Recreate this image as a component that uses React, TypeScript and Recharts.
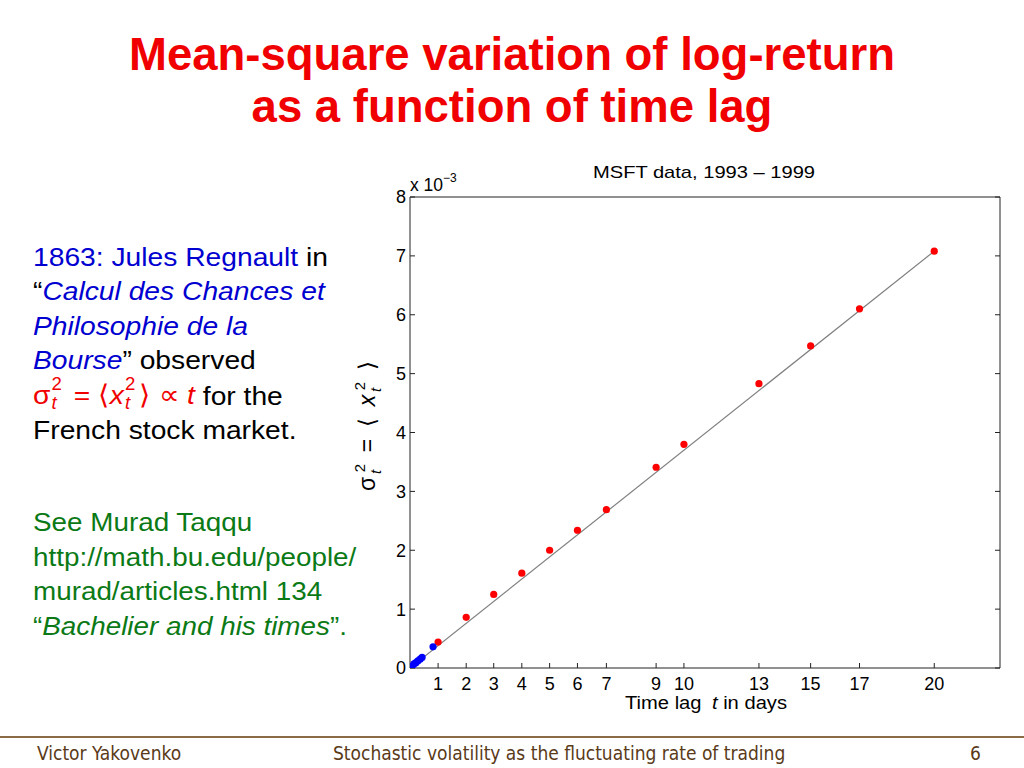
import React from 'react';
import { ScatterChart, Scatter, XAxis, YAxis } from 'recharts';

// lag positions along the plot's linear axis; the day labels below sit at these
const redLag = [1, 2, 2.98, 3.98, 4.97, 5.96, 6.99, 8.76, 9.75, 12.42, 14.26, 16.0, 18.66];
const redMsd = [0.44, 0.86, 1.25, 1.61, 2.0, 2.34, 2.69, 3.41, 3.8, 4.83, 5.47, 6.1, 7.08];
const dayLabels = [1, 2, 3, 4, 5, 6, 7, 9, 10, 13, 15, 17, 20];

// intraday lags (blue)
const blueLag = [0.02, 0.07, 0.14, 0.21, 0.28, 0.36, 0.43, 0.82];
const blueMsd = [0.0, 0.03, 0.07, 0.09, 0.12, 0.15, 0.18, 0.36];

// fitted straight line
const fitLag = [0, 18.66];
const fitMsd = [0, 7.08];

const yTicks = [0, 1, 2, 3, 4, 5, 6, 7, 8];

const toPoints = (xs: number[], ys: number[]) => xs.map((x, i) => ({ lag: x, msd: ys[i] }));

const redData = toPoints(redLag, redMsd);
const blueData = toPoints(blueLag, blueMsd);
const fitData = toPoints(fitLag, fitMsd);

const BLUE = '#0000d0';
const GREEN = '#0b7a16';
const RED = '#f00000';
const BODY_FONT = 26.5;

const dot = (color: string) => (props: any) => (
  <circle cx={props.cx} cy={props.cy} r={3.6} fill={color} />
);

const tickFont = { fontFamily: 'Liberation Sans, Arial, sans-serif', fontSize: 18, fill: '#000' };
const axisStroke = { stroke: '#222', strokeWidth: 1 };

const dayLabel = (v: number) => {
  const i = redLag.indexOf(v);
  return i >= 0 ? String(dayLabels[i]) : '';
};

// stacked subscript / superscript that does not grow the line box
const SubSup = ({ sub, sup }: { sub: string; sup: string }) => {
  const s = BODY_FONT * 0.66;
  const common: React.CSSProperties = { position: 'absolute', left: 1, fontSize: s, lineHeight: 1 };
  return (
    <span
      style={{
        display: 'inline-block',
        position: 'relative',
        width: BODY_FONT * 0.55,
        height: BODY_FONT,
      }}
    >
      <span style={{ ...common, top: -2 }}>{sup}</span>
      <span style={{ ...common, top: 17, fontStyle: 'italic' }}>{sub}</span>
    </span>
  );
};

export default function App() {
  return (
    <div
      style={{
        position: 'fixed',
        left: 0,
        top: 0,
        width: 1024,
        height: 768,
        background: '#fff',
        overflow: 'hidden',
        fontFamily: 'Liberation Sans, Arial, sans-serif',
      }}
    >
      {/* slide title */}
      <div
        style={{
          position: 'absolute',
          top: 29,
          left: 0,
          width: 1024,
          textAlign: 'center',
          color: RED,
          fontWeight: 'bold',
          fontSize: 45.5,
          lineHeight: '52px',
        }}
      >
        Mean-square variation of log-return
        <br />
        as a function of time lag
      </div>

      {/* left text */}
      <div
        style={{
          position: 'absolute',
          left: 33,
          top: 240,
          fontSize: BODY_FONT,
          lineHeight: '34.4px',
          color: '#000',
          transform: 'scaleX(1.065)',
          transformOrigin: '0 0',
          whiteSpace: 'nowrap',
        }}
      >
        <div>
          <span style={{ color: BLUE }}>1863: Jules Regnault</span> in
        </div>
        <div>
          “<i style={{ color: BLUE }}>Calcul des Chances et</i>
        </div>
        <div>
          <i style={{ color: BLUE }}>Philosophie de la</i>
        </div>
        <div>
          <i style={{ color: BLUE }}>Bourse</i>” observed
        </div>
        <div>
          <span style={{ color: RED }}>
            σ<SubSup sub="t" sup="2" /> = ⟨<i>x</i>
            <SubSup sub="t" sup="2" />⟩ ∝ <i>t</i>
          </span>{' '}
          for the
        </div>
        <div>French stock market.</div>
      </div>

      <div
        style={{
          position: 'absolute',
          left: 33,
          top: 505,
          fontSize: BODY_FONT,
          lineHeight: '34.7px',
          color: GREEN,
          transform: 'scaleX(1.05)',
          transformOrigin: '0 0',
          whiteSpace: 'nowrap',
        }}
      >
        <div>See Murad Taqqu</div>
        <div>http://math.bu.edu/people/</div>
        <div>murad/articles.html 134</div>
        <div>
          “<i>Bachelier and his times</i>”.
        </div>
      </div>

      {/* chart */}
      <div style={{ position: 'absolute', left: 340, top: 150 }}>
        <ScatterChart width={680} height={580} margin={{ top: 43, right: 16, bottom: 22, left: 34 }}>
          <XAxis
            xAxisId={0}
            dataKey="lag"
            type="number"
            domain={[0, 21]}
            allowDataOverflow
            ticks={redLag}
            interval={0}
            tickFormatter={dayLabel}
            tickSize={-5}
            tickMargin={14}
            height={40}
            tick={tickFont}
            axisLine={axisStroke}
            tickLine={axisStroke}
          />
          <XAxis
            xAxisId="top"
            orientation="top"
            type="number"
            domain={[0, 21]}
            allowDataOverflow
            ticks={redLag}
            interval={0}
            tickFormatter={() => ''}
            tickSize={-5}
            height={4}
            axisLine={axisStroke}
            tickLine={axisStroke}
          />
          <YAxis
            yAxisId={0}
            dataKey="msd"
            type="number"
            domain={[0, 8]}
            allowDataOverflow
            ticks={yTicks}
            interval={0}
            tickSize={-5}
            tickMargin={9}
            width={36}
            tick={tickFont}
            axisLine={axisStroke}
            tickLine={axisStroke}
          />
          <YAxis
            yAxisId="right"
            orientation="right"
            type="number"
            domain={[0, 8]}
            allowDataOverflow
            ticks={yTicks}
            interval={0}
            tickFormatter={() => ''}
            tickSize={-5}
            width={4}
            axisLine={axisStroke}
            tickLine={axisStroke}
          />
          <Scatter
            data={fitData}
            line={{ stroke: '#808080', strokeWidth: 1.2 }}
            shape={() => <g />}
            isAnimationActive={false}
          />
          <Scatter data={redData} shape={dot('#ff0000')} isAnimationActive={false} />
          <Scatter data={blueData} shape={dot('#0000ff')} isAnimationActive={false} />
        </ScatterChart>
      </div>

      {/* chart annotations */}
      <svg
        width={1024}
        height={768}
        style={{ position: 'absolute', left: 0, top: 0, pointerEvents: 'none' }}
        fontFamily="Liberation Sans, Arial, sans-serif"
      >
        <text x={704} y={178} textAnchor="middle" fontSize={17} textLength={222} lengthAdjust="spacingAndGlyphs">
          MSFT data, 1993 – 1999
        </text>
        <text x={410} y={191} fontSize={17.5}>
          x 10
          <tspan dy={-9} fontSize={12}>
            −3
          </tspan>
        </text>
        <text
          x={706}
          y={708.5}
          textAnchor="middle"
          fontSize={17.5}
          textLength={162}
          lengthAdjust="spacingAndGlyphs"
        >
          Time lag
          <tspan dx={9} fontStyle="italic">
            t
          </tspan>
          <tspan> in days</tspan>
        </text>
        <text
          x={375}
          y={426}
          textAnchor="middle"
          fontSize={23}
          transform="rotate(-90 375 426)"
          textLength={130}
          lengthAdjust="spacing"
        >
          σ
          <tspan dy={6} fontSize={15} fontStyle="italic">
            t
          </tspan>
          <tspan dx={-5} dy={-16} fontSize={15}>
            2
          </tspan>
          <tspan dy={10}> = ⟨ </tspan>
          <tspan fontStyle="italic">x</tspan>
          <tspan dy={6} fontSize={15} fontStyle="italic">
            t
          </tspan>
          <tspan dx={-5} dy={-16} fontSize={15}>
            2
          </tspan>
          <tspan dy={10}> ⟩</tspan>
        </text>
      </svg>

      {/* footer */}
      <div style={{ position: 'absolute', left: 0, top: 736, width: 1024, borderTop: '2px solid #8b6a46' }} />
      <div
        style={{
          position: 'absolute',
          top: 742,
          left: 0,
          width: 1024,
          fontFamily: 'DejaVu Sans Condensed, DejaVu Sans, sans-serif',
          fontSize: 19,
          color: '#5a3a18',
          whiteSpace: 'nowrap',
        }}
      >
        <span style={{ position: 'absolute', left: 37 }}>Victor Yakovenko</span>
        <span style={{ position: 'absolute', left: 333 }}>Stochastic volatility as the fluctuating rate of trading</span>
        <span style={{ position: 'absolute', left: 970 }}>6</span>
      </div>
    </div>
  );
}
